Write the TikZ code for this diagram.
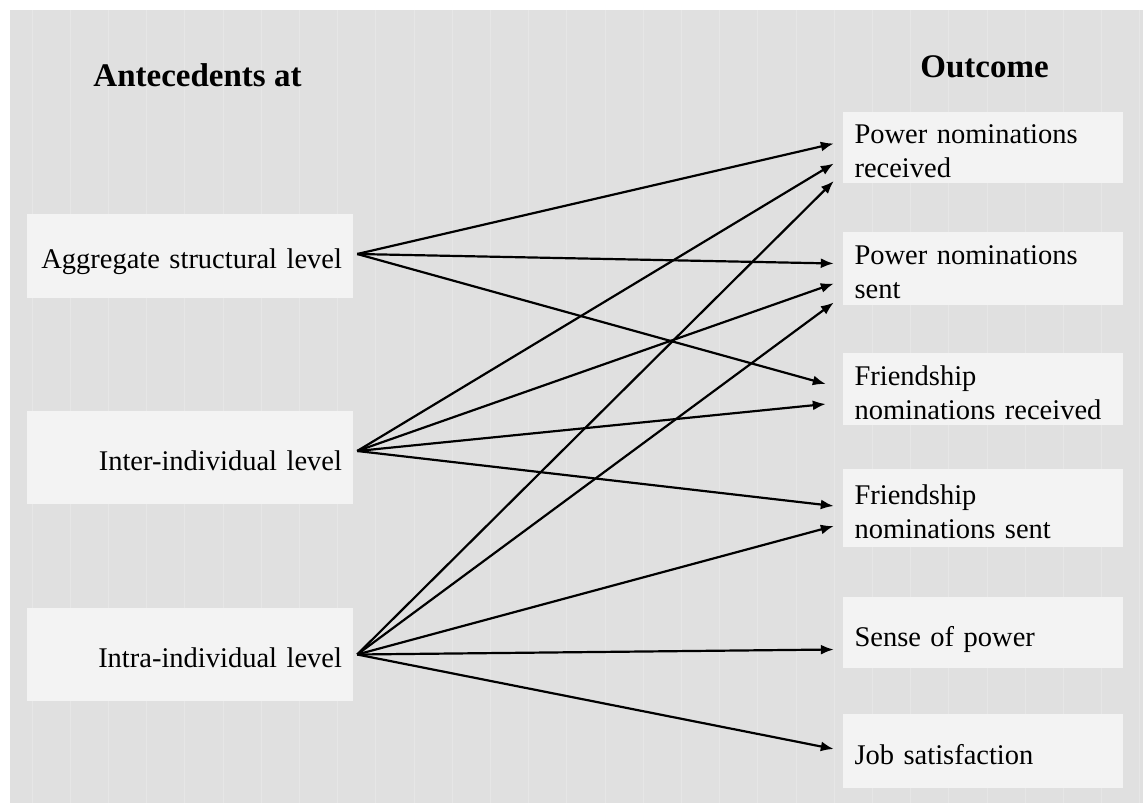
\documentclass[tikz,border=0pt]{standalone}
\usepackage{fontspec}
\setmainfont{Liberation Serif}
\usetikzlibrary{arrows.meta}

\definecolor{bggray}{HTML}{E0E0E0}
\definecolor{boxgray}{HTML}{F3F3F3}
\definecolor{stripegray}{HTML}{E6E6E6}

\begin{document}
\begin{tikzpicture}[x=1pt,y=-1pt,
    level/.style={fill=boxgray,text width=304pt,inner xsep=11pt,inner ysep=0pt,
      align=right,text height=25pt,text depth=0pt,font=\fontsize{28.5}{34}\selectfont},
    outcome/.style={fill=boxgray,text width=256pt,inner xsep=12pt,inner ysep=0pt,
      align=left,text height=27pt,font=\fontsize{28.5}{34}\selectfont},
    oneline/.style={text depth=0pt},
    head/.style={anchor=base,font=\fontsize{33}{38}\selectfont\bfseries},
    link/.style={-{Latex[length=13pt,width=10pt]},line width=2.2pt}]

    \useasboundingbox (0,0) rectangle (1143,803);
    \fill[white] (0,0) rectangle (1143,803);
    \fill[bggray] (10,10) rectangle (1143,803);
    \foreach \x in {0,...,29}
      \draw[stripegray,line width=1pt] ({32+38.2*\x},10) -- ({32+38.2*\x},803);

    % headings
    \node[head] (antec) at (197.5,86) {Antecedents at};
    \node[head] (outc) at (984.5,77) {Outcome};

    % antecedents
    \node[level,minimum height=84pt] (agg) at (190,256) {Aggregate structural level};
    \node[level,minimum height=93pt] (inter) at (190,457.5) {Inter-individual level};
    \node[level,minimum height=93pt] (intra) at (190,654.5) {Intra-individual level};

    \coordinate (aggout) at ([xshift=4pt,yshift=2pt]agg.east);
    \coordinate (interout) at ([xshift=4pt,yshift=6.5pt]inter.east);
    \coordinate (intraout) at ([xshift=4pt]intra.east);

    % outcomes
    \node[outcome,minimum height=71pt] (pnr) at (982.5,147.5) {Power nominations\\received};
    \node[outcome,minimum height=73pt] (pns) at (982.5,268.5) {Power nominations\\sent};
    \node[outcome,minimum height=72pt] (fnr) at (982.5,389) {Friendship\\nominations received};
    \node[outcome,minimum height=78pt] (fns) at (982.5,508) {Friendship\\nominations sent};
    \node[outcome,oneline,minimum height=71pt] (sop) at (982.5,632.5) {Sense of power};
    \node[outcome,oneline,minimum height=74pt] (jsat) at (982.5,751) {Job satisfaction};

    % aggregate structural level
    \draw[link] (aggout) -- ([xshift=-8.5pt,yshift=4pt]pnr.west);
    \draw[link] (aggout) -- ([xshift=-8.5pt,yshift=5pt]pns.west);
    \draw[link] (aggout) -- ([xshift=-16.5pt,yshift=5pt]fnr.west);

    % inter-individual level
    \draw[link] (interout) -- ([xshift=-8.5pt,yshift=-16pt]pnr.west);
    \draw[link] (interout) -- ([xshift=-8.5pt,yshift=-15pt]pns.west);
    \draw[link] (interout) -- ([xshift=-16.5pt,yshift=-15pt]fnr.west);
    \draw[link] (interout) -- ([xshift=-8.5pt,yshift=2pt]fns.west);

    % intra-individual level
    \draw[link] (intraout) -- ([xshift=-8.5pt,yshift=-33.5pt]pnr.west);
    \draw[link] (intraout) -- ([xshift=-8.5pt,yshift=-34pt]pns.west);
    \draw[link] (intraout) -- ([xshift=-8.5pt,yshift=-18pt]fns.west);
    \draw[link] (intraout) -- ([xshift=-8.5pt,yshift=-17pt]sop.west);
    \draw[link] (intraout) -- ([xshift=-8.5pt,yshift=2pt]jsat.west);
\end{tikzpicture}
\end{document}
